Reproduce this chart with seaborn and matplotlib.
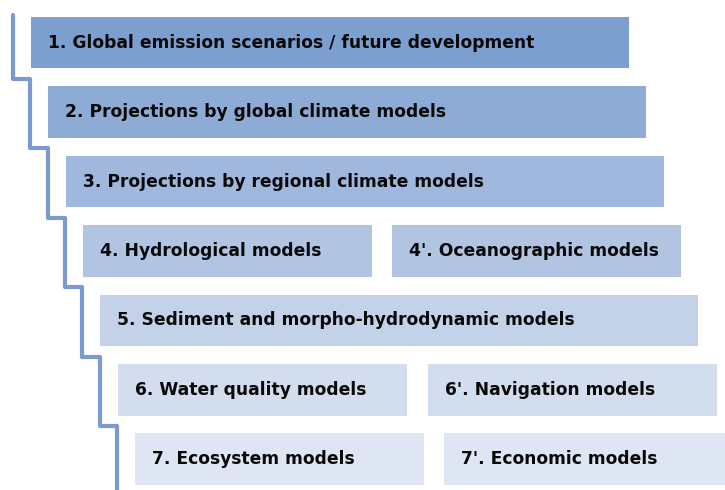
import numpy as np
import pandas as pd
import matplotlib
matplotlib.use('Agg')
import matplotlib.pyplot as plt
import seaborn as sns

# Boxes of the modelling chain: label, row (step), column (0 = left/full, 1 = right)
labels = [
    "1. Global emission scenarios / future development",
    "2. Projections by global climate models",
    "3. Projections by regional climate models",
    "4. Hydrological models",
    "4'. Oceanographic models",
    "5. Sediment and morpho-hydrodynamic models",
    "6. Water quality models",
    "6'. Navigation models",
    "7. Ecosystem models",
    "7'. Economic models",
]
rows = [0, 1, 2, 3, 3, 4, 5, 5, 6, 6]
cols = [0, 0, 0, 0, 1, 0, 0, 1, 0, 1]
split = [False, False, False, True, True, False, True, True, True, True]

row_colors = ["#7d9fd0", "#8eabd6", "#a0b8dd", "#b1c5e3",
              "#c3d2e9", "#d2ddee", "#dfe6f3"]

# layout (pixels)
x0, y0 = 31, 17
dx, dy = 17.35, 69.4
box_h = 51.5
full_w = 598
half_w = 289
gap = 20

sns.set_theme(style="white")
plt.rcParams['font.family'] = ['DejaVu Sans']

fig = plt.figure(figsize=(7.25, 4.9), dpi=100)
ax = fig.add_axes([0, 0, 1, 1])

df = pd.DataFrame({'label': labels, 'row': rows, 'col': cols, 'split': split})
df['w'] = np.where(df['split'], half_w, full_w)
df['left'] = x0 + df['row'] * dx + df['col'] * (half_w + gap + df['row'].eq(5) * 1.5)
df['top'] = y0 + df['row'] * dy

for _, r in df.iterrows():
    ax.barh(r['top'] + box_h / 2, r['w'], height=box_h, left=r['left'],
            color=row_colors[r['row']], edgecolor='none')
    ax.text(r['left'] + 17, r['top'] + box_h / 2, r['label'],
            fontsize=12.3, fontweight='bold', color='#0a0a0a',
            ha='left', va='center')

# staircase line on the left
n = len(row_colors)
px, py = [], []
for i in range(n):
    xs = 13 + i * dx
    y_start = 15 if i == 0 else y0 + i * dy - 7.5
    y_end = y0 + (i + 1) * dy - 7.5 if i < n - 1 else 490
    px += [xs, xs]
    py += [y_start, y_end]
path = pd.DataFrame({'x': px, 'y': py})
sns.lineplot(data=path, x='x', y='y', sort=False, ax=ax, color='#7b9bd0',
             linewidth=3, solid_joinstyle='round', solid_capstyle='round',
             estimator=None)
ax.set_xlim(0, 725)
ax.set_ylim(490, 0)
ax.axis('off')

fig.savefig('out.png', dpi=100)
